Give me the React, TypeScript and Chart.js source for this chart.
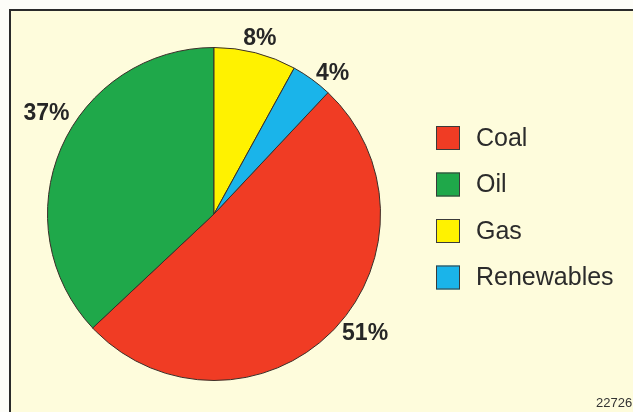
import React, { useEffect, useRef } from "react";
import { Chart, registerables } from "chart.js";

Chart.register(...registerables);

const categories = ["Coal", "Oil", "Gas", "Renewables"];
const shares = [51, 37, 8, 4];
const shareLabels = ["51%", "37%", "8%", "4%"];
const sliceColors = ["#f03c24", "#1fa84a", "#fff200", "#1ab4ea"];
const footnote = "22726";

// label placement tweaks (degrees added to slice mid angle, px beyond radius)
const labelAngleAdj = [-6.7, 7.6, 0.3, 4.1];
const labelDistAdj = [26, 29, 14.5, 17.5];

const overlayPlugin = {
  id: "overlay",
  afterDraw(chart: any) {
    const ctx = chart.ctx;
    const meta = chart.getDatasetMeta(0);
    ctx.save();
    ctx.fillStyle = "#262626";
    ctx.font = "bold 23px 'Liberation Sans', Arial, sans-serif";
    ctx.textAlign = "center";
    ctx.textBaseline = "middle";
    meta.data.forEach((arc: any, i: number) => {
      const p = arc.getProps(["x", "y", "startAngle", "endAngle", "outerRadius"], true);
      const mid = (p.startAngle + p.endAngle) / 2 + (labelAngleAdj[i] * Math.PI) / 180;
      const r = p.outerRadius + labelDistAdj[i];
      ctx.fillText(shareLabels[i], p.x + Math.cos(mid) * r, p.y + Math.sin(mid) * r);
    });

    // legend
    const lx = 436;
    const ly = 126;
    const size = 24;
    const gap = 46.5;
    ctx.font = "25px 'Liberation Sans', Arial, sans-serif";
    ctx.textAlign = "left";
    categories.forEach((c, i) => {
      const y = ly + i * gap;
      ctx.fillStyle = sliceColors[i];
      ctx.fillRect(lx, y, size, size);
      ctx.strokeStyle = "#3a3a3a";
      ctx.lineWidth = 1;
      ctx.strokeRect(lx + 0.5, y + 0.5, size - 1, size - 1);
      ctx.fillStyle = "#2b2b2b";
      ctx.fillText(c, lx + 40, y + size / 2 + 1);
    });

    ctx.font = "13px 'Liberation Sans', Arial, sans-serif";
    ctx.fillStyle = "#333";
    ctx.textBaseline = "alphabetic";
    ctx.fillText(footnote, 596, 407);
    ctx.restore();
  },
};

export default function App() {
  const ref = useRef<HTMLCanvasElement | null>(null);
  useEffect(() => {
    if (!ref.current) return;
    const total = shares.reduce((a, b) => a + b, 0);
    const rotation = ((shares[2] + shares[3]) / total) * 360;
    const chart = new Chart(ref.current, {
      type: "pie",
      data: {
        labels: categories,
        datasets: [
          {
            data: shares,
            backgroundColor: sliceColors,
            borderColor: "#3a2e28",
            borderWidth: 1,
            hoverOffset: 0,
          },
        ],
      },
      options: {
        animation: false,
        responsive: false,
        maintainAspectRatio: false,
        devicePixelRatio: 1,
        rotation,
        layout: { padding: { left: 47, top: 47, right: 252, bottom: 31 } },
        plugins: { legend: { display: false }, tooltip: { enabled: false } },
        events: [],
      },
      plugins: [overlayPlugin],
    });
    return () => chart.destroy();
  }, []);

  return (
    <div
      style={{
        position: "fixed",
        left: 0,
        top: 0,
        width: 633,
        height: 412,
        background: "#fdfdf8",
        overflow: "hidden",
      }}
    >
      <div
        style={{
          position: "absolute",
          left: 9,
          top: 9,
          width: 700,
          height: 500,
          borderTop: "2px solid #2a2a2a",
          borderLeft: "2px solid #2a2a2a",
          background: "#fefcdc",
        }}
      />
      <canvas ref={ref} width={633} height={412} style={{ position: "absolute", left: 0, top: 0 }} />
    </div>
  );
}
